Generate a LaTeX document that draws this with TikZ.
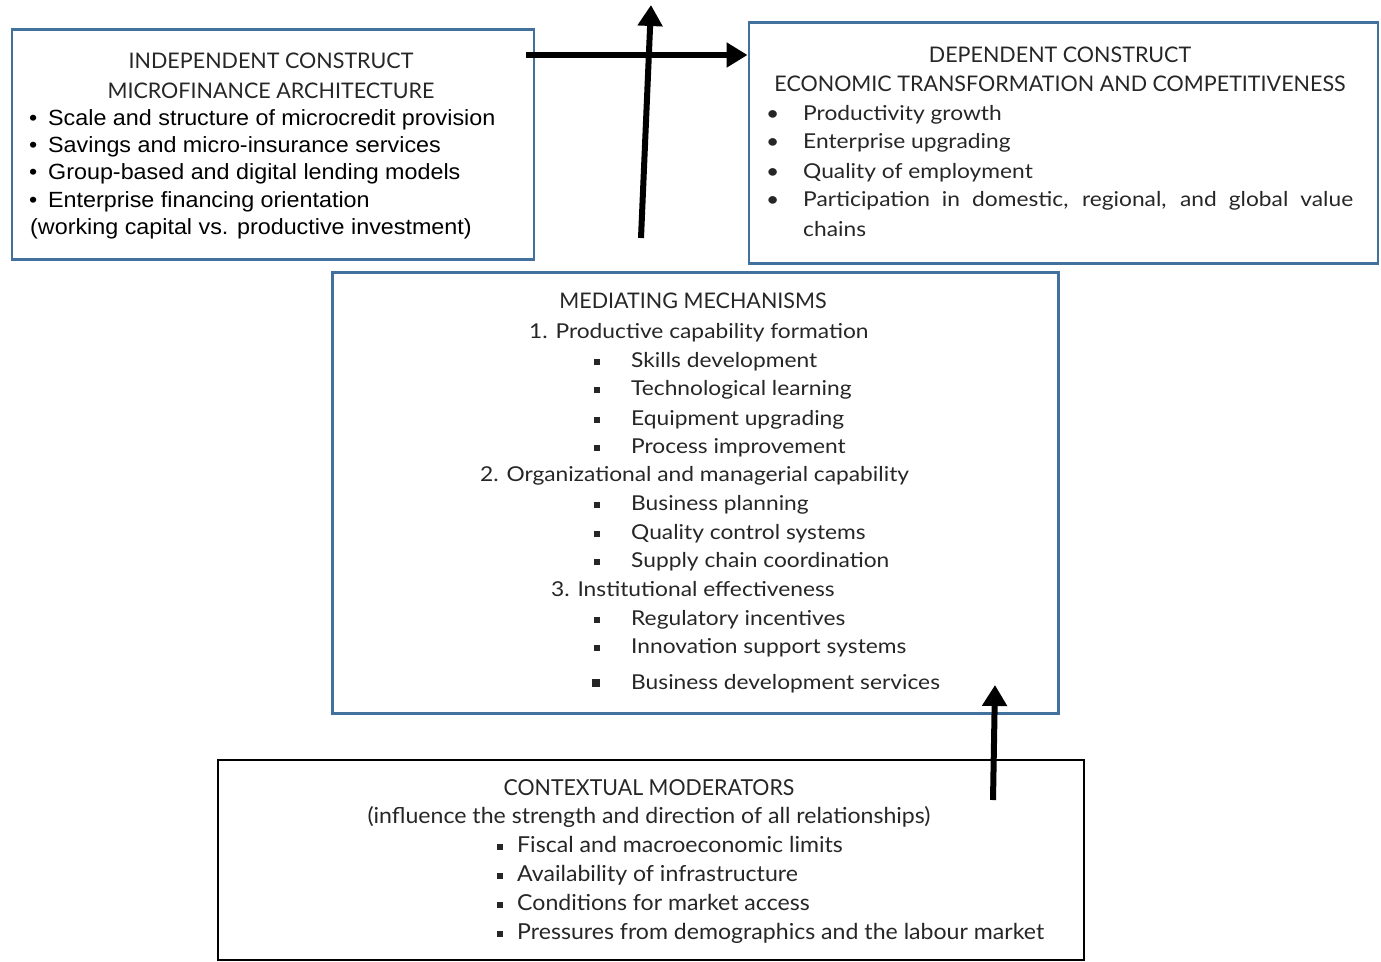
\documentclass[tikz,border=0pt]{standalone}
\usepackage{fontspec}
\setmainfont{Lato}
\newfontfamily\arialf[FakeStretch=1.06]{Liberation Sans}
\newfontfamily\bodyf[FakeStretch=1.11]{Lato}
\newfontfamily\dbodyf[FakeStretch=1.05]{Lato}
\newfontfamily\dcapf[FakeStretch=0.97]{Lato}
\usetikzlibrary{arrows.meta}
\definecolor{boxblue}{HTML}{41719C}
\definecolor{txtgray}{HTML}{262626}
\newcommand{\sqb}{\rule[2.5pt]{5.5pt}{5.5pt}}
\newcommand{\sqbig}{\rule[2pt]{8pt}{8pt}}
\tikzset{
  bluebox/.style={draw=boxblue, line width=2.5pt, anchor=north west, inner sep=0pt},
  blackbox/.style={draw=black, line width=2pt, anchor=north west, inner sep=0pt},
  lt/.style={inner sep=0pt, anchor=base west, text=txtgray, font=\bodyf\fontsize{20.5}{24}\selectfont},
  ct/.style={inner sep=0pt, anchor=base, text=txtgray, font=\fontsize{21.5}{24}\selectfont},
  arialtxt/.style={inner sep=0pt, anchor=base west, text=black, font=\arialf\fontsize{22}{24}\selectfont},
  nt/.style={inner sep=0pt, anchor=base west, text=txtgray, font=\dbodyf\fontsize{22}{24}\selectfont},
  nlt/.style={inner sep=0pt, anchor=base, text=txtgray, font=\dbodyf\fontsize{22}{24}\selectfont},
  nct/.style={inner sep=0pt, anchor=base, text=txtgray, font=\dcapf\fontsize{22}{24}\selectfont},
  bigarrow/.style={line width=6pt, -{Triangle[length=21pt,width=24pt]}}
}
\begin{document}
\begin{tikzpicture}[x=1pt,y=-1pt]
\useasboundingbox (0,0) rectangle (1381,961);
% boxes
\node[bluebox, minimum width=522pt, minimum height=230pt] (A) at (10.5,28) {};
\node[bluebox, minimum width=629pt, minimum height=241pt] (B) at (747.5,21) {};
\node[bluebox, minimum width=726pt, minimum height=441pt] (C) at (331,271) {};
\node[blackbox, minimum width=866pt, minimum height=200pt] (D) at (217,759) {};

% Box A text
\node[ct] (a1) at (271,68) {INDEPENDENT CONSTRUCT};
\node[ct] (a2) at (271,98) {MICROFINANCE ARCHITECTURE};
\node[arialtxt] (a3) at (29,125) {\makebox[19pt][l]{•}Scale and structure of microcredit provision};
\node[arialtxt] (a4) at (29,152) {\makebox[19pt][l]{•}Savings and micro-insurance services};
\node[arialtxt] (a5) at (29,179) {\makebox[19pt][l]{•}Group-based and digital lending models};
\node[arialtxt] (a6) at (29,207) {\makebox[19pt][l]{•}Enterprise financing orientation};
\node[arialtxt] (a7) at (30,234) {(working capital vs. productive investment)};

% Box B text
\node[ct] (b1) at (1060,62) {DEPENDENT CONSTRUCT};
\node[ct] (b2) at (1060,91) {ECONOMIC TRANSFORMATION AND COMPETITIVENESS};
\node[lt] (b3) at (766,120) {\makebox[37pt][l]{•}Productivity growth};
\node[lt] (b4) at (766,148) {\makebox[37pt][l]{•}Enterprise upgrading};
\node[lt] (b5) at (766,178) {\makebox[37pt][l]{•}Quality of employment};
\node[lt] (b6) at (766,206) {\makebox[37pt][l]{•}\makebox[550pt][s]{Participation in domestic, regional, and global value}};
\node[lt] (b7) at (803,236) {chains};

% Box C text
\node[ct] (c1) at (693,308) {MEDIATING MECHANISMS};
\node[lt] (c2) at (529,338) {1. Productive capability formation};
\node[lt] (c3) at (594,367) {\makebox[37pt][l]{\sqb}Skills development};
\node[lt] (c4) at (594,395) {\makebox[37pt][l]{\sqb}Technological learning};
\node[lt] (c5) at (594,425) {\makebox[37pt][l]{\sqb}Equipment upgrading};
\node[lt] (c6) at (594,453) {\makebox[37pt][l]{\sqb}Process improvement};
\node[lt] (c7) at (480,481) {2. Organizational and managerial capability};
\node[lt] (c8) at (594,510) {\makebox[37pt][l]{\sqb}Business planning};
\node[lt] (c9) at (594,539) {\makebox[37pt][l]{\sqb}Quality control systems};
\node[lt] (c10) at (594,567) {\makebox[37pt][l]{\sqb}Supply chain coordination};
\node[lt] (c11) at (551,596) {3. Institutional effectiveness};
\node[lt] (c12) at (594,625) {\makebox[37pt][l]{\sqb}Regulatory incentives};
\node[lt] (c13) at (594,653) {\makebox[37pt][l]{\sqb}Innovation support systems};
\node[lt] (c14) at (592,689) {\makebox[39pt][l]{\sqbig}Business development services};

% Box D text
\node[nct] (d1) at (649,795) {CONTEXTUAL MODERATORS};
\node[nlt] (d2) at (649,823) {(influence the strength and direction of all relationships)};
\node[nt] (d3) at (497,852) {\makebox[20pt][l]{\sqb}Fiscal and macroeconomic limits};
\node[nt] (d4) at (497,881) {\makebox[20pt][l]{\sqb}Availability of infrastructure};
\node[nt] (d5) at (497,910) {\makebox[20pt][l]{\sqb}Conditions for market access};
\node[nt] (d6) at (497,939) {\makebox[20pt][l]{\sqb}Pressures from demographics and the labour market};

% arrows
\coordinate (hs) at (526,55);
\coordinate (vs) at (641,238);
\coordinate (vt) at (651,5);
\coordinate (ms) at (993,800);
\coordinate (mt) at (995,685);
\draw[bigarrow] (hs) -- (B.west |- hs);
\draw[bigarrow] (vs) -- (vt);
\draw[bigarrow] (ms) -- (mt);
\end{tikzpicture}
\end{document}
